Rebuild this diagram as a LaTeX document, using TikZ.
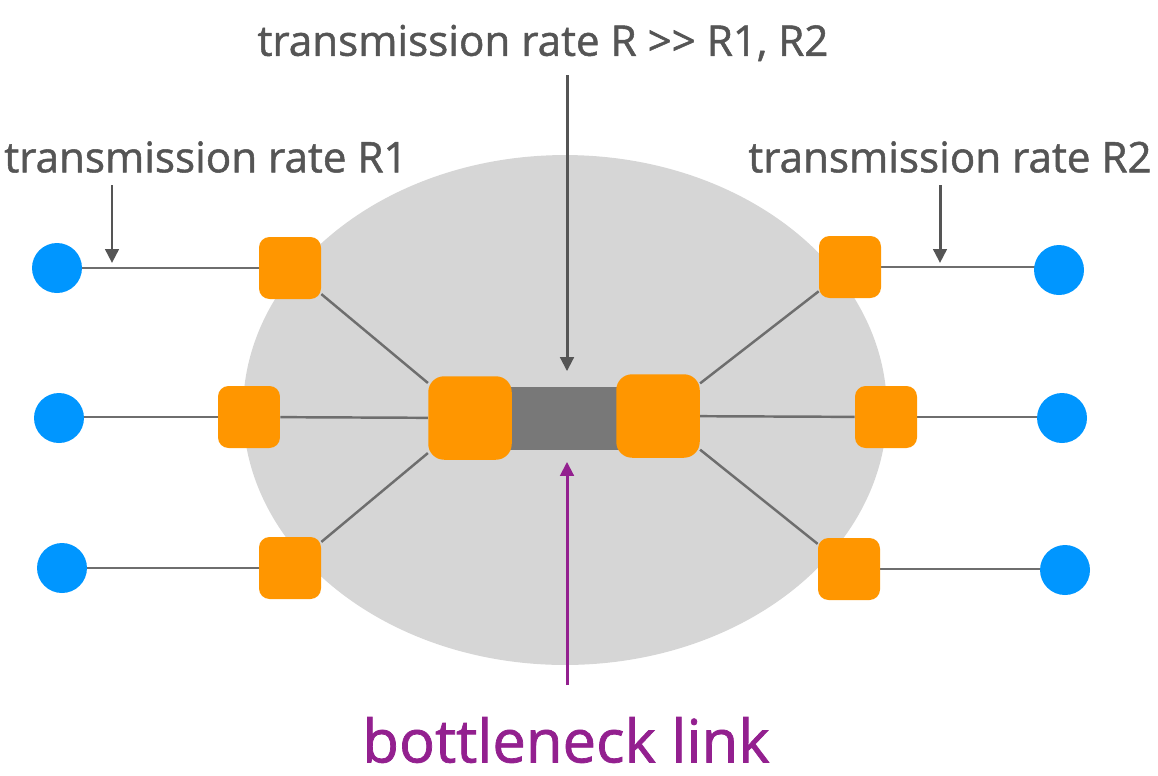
\documentclass[tikz,border=0pt]{standalone}
\usepackage{fontspec}
\setmainfont{Open Sans}[Ligatures=NoCommon, FakeBold=1.2]
\usetikzlibrary{positioning,arrows.meta,backgrounds}
\definecolor{nuvem}{HTML}{D6D6D6}
\definecolor{hostblue}{HTML}{0096FF}
\definecolor{roteador}{HTML}{FF9600}
\definecolor{enlace}{HTML}{787878}
\definecolor{fio}{HTML}{6E6E6E}
\definecolor{tinta}{HTML}{555555}
\definecolor{roxo}{HTML}{93208F}

\begin{document}
\begin{tikzpicture}[x=0.02cm, y=-0.02cm,
  font=\fontsize{24}{28}\selectfont,
  host/.style={circle, fill=hostblue, minimum size=1.0cm, inner sep=0pt},
  router/.style={rectangle, rounded corners=6pt, fill=roteador, minimum size=1.24cm, inner sep=0pt},
  core/.style={router, minimum size=1.67cm, rounded corners=9pt},
  wire/.style={draw=fio, line width=1.4pt},
  pointer/.style={-{Triangle[length=0.28cm, width=0.27cm]}, line width=1.7pt, draw=tinta}]
\useasboundingbox (0,0) rectangle (1158,775);
% ---- hosts
\node[host] (h1) at (57,268) {};
\node[host] (h2) at (59,418) {};
\node[host] (h3) at (62,568) {};
\node[host] (h4) at (1059,270) {};
\node[host] (h5) at (1062,418) {};
\node[host] (h6) at (1065,570) {};
% ---- routers
\node[router] (r1) at (290,268) {};
\node[router] (r2) at (249,417) {};
\node[router] (r3) at (290,568) {};
\node[router] (r4) at (850,267) {};
\node[router] (r5) at (886,417) {};
\node[router] (r6) at (849,569) {};
% ---- bottleneck
\node[fill=enlace, minimum width=2.4cm, minimum height=1.26cm, inner sep=0pt] (bneck) at (565,418) {};
\node[core] (cl) at (470,418) {};
\node[core] (cr) at (658,416) {};
% ---- cloud and wires behind
\begin{scope}[on background layer]
\fill[nuvem] (565,410) ellipse [x radius=6.44cm, y radius=5.1cm];
\draw[wire] (r1) -- (r1 -| h1); \draw[wire] (r2) -- (r2 -| h2); \draw[wire] (r3) -- (r3 -| h3);
\draw[wire] (r4) -- (r4 -| h4); \draw[wire] (r5) -- (r5 -| h5); \draw[wire] (r6) -- (r6 -| h6);
\draw[wire] (r1) -- (cl); \draw[wire] (r2) -- (cl); \draw[wire] (r3) -- (cl);
\draw[wire] (r4) -- (cr); \draw[wire] (r5) -- (cr); \draw[wire] (r6) -- (cr);
\end{scope}
% ---- labels
\node[text=tinta] (tr) at (543,43) {transmission rate R >{}> R1, R2};
\node[text=tinta] (tr1) at (206,157) {transmission rate R1};
\node[text=tinta] (tr2) at (950,157) {transmission rate R2};
\node[text=roxo, font=\fontsize{34}{38}\selectfont] (bl) at (566,740) {bottleneck link};
\coordinate (w1) at (112,268);
\coordinate (w2) at (940,268);
\coordinate (a1) at (112,185);
\coordinate (a2) at (940,185);
\coordinate (at) at (567,75);
\coordinate (bt) at (567,685);
\draw[pointer] (a1) -- ([yshift=0.1cm]w1);
\draw[pointer] (a2) -- ([yshift=0.1cm]w2);
\draw[pointer] (at) -- ([yshift=0.3cm]bneck.north -| at);
\draw[pointer, draw=roxo] (bt) -- ([yshift=-0.24cm]bneck.south -| bt);
\end{tikzpicture}
\end{document}
